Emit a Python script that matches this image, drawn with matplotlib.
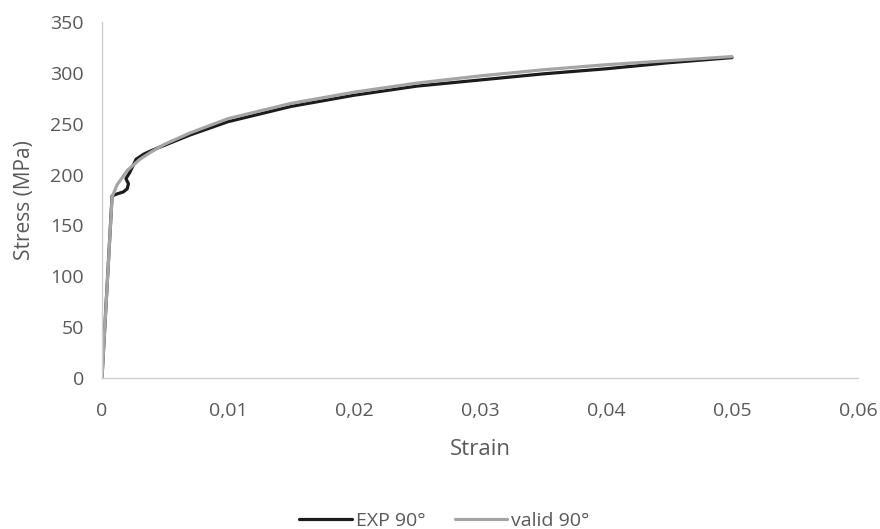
import matplotlib
matplotlib.use("Agg")
import matplotlib.pyplot as plt

exp_strain = [0, 0.0008, 0.0012, 0.0017, 0.0020, 0.0021, 0.0019, 0.0022, 0.0027, 0.0033,
              0.004, 0.005, 0.007, 0.01, 0.015, 0.02, 0.025, 0.03, 0.035, 0.04, 0.045, 0.05]
exp_stress = [0, 179, 181, 183, 186, 191, 196, 202, 215, 220,
              224, 229, 239, 252, 267, 278, 287, 293, 299, 304, 310, 315]

valid_strain = [0, 0.0008, 0.0012, 0.002, 0.003, 0.004, 0.005, 0.007, 0.01, 0.015,
                0.02, 0.025, 0.03, 0.035, 0.04, 0.045, 0.05]
valid_stress = [0, 178, 190, 204, 215, 223, 230, 241, 255, 270,
                281, 290, 297, 303, 308, 312, 316]

x_ticks = [0, 0.01, 0.02, 0.03, 0.04, 0.05, 0.06]
x_tick_labels = ["0", "0,01", "0,02", "0,03", "0,04", "0,05", "0,06"]
y_ticks = [0, 50, 100, 150, 200, 250, 300, 350]

plt.rcParams['font.family'] = ['Open Sans', 'DejaVu Sans']
text_color = "#595959"

fig = plt.figure(figsize=(8.8, 5.29), dpi=100)
ax = fig.add_axes([0.1159, 0.2854, 0.975 - 0.1159, 0.9584 - 0.2854])

ax.plot(exp_strain, exp_stress, color="#1c1c1c", lw=2.3, label="EXP 90°", solid_capstyle="round")
ax.plot(valid_strain, valid_stress, color="#a5a5a5", lw=2.3, label="valid 90°", solid_capstyle="round")

ax.set_xlim(0, 0.06)
ax.set_ylim(0, 350)
ax.set_xticks(x_ticks)
ax.set_xticklabels(x_tick_labels)
ax.set_yticks(y_ticks)

for s in ["top", "right"]:
    ax.spines[s].set_visible(False)
for s in ["left", "bottom"]:
    ax.spines[s].set_color("#d0d0d0")
    ax.spines[s].set_linewidth(1.0)

ax.tick_params(axis="both", length=0, labelsize=14, colors=text_color)
ax.tick_params(axis="x", pad=17)
ax.tick_params(axis="y", pad=13)

ax.set_xlabel("Strain", fontsize=16, color=text_color, labelpad=14)
ax.set_ylabel("Stress (MPa)", fontsize=15, color=text_color, labelpad=11)

leg = fig.legend(loc="lower center", bbox_to_anchor=(0.505, -0.035), ncol=2, frameon=False,
                 fontsize=14, handlelength=2.7, handletextpad=0.2, columnspacing=1.5)
for t in leg.get_texts():
    t.set_color(text_color)

fig.savefig("out.png", dpi=100)
